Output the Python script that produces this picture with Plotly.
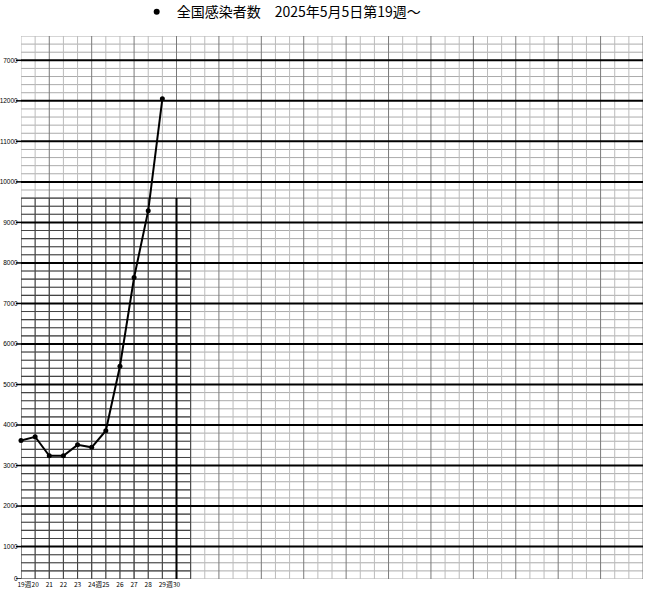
import plotly.graph_objects as go

# ---- data ----
weeks = [19, 20, 21, 22, 23, 24, 25, 26, 27, 28, 29]
cases = [3620, 3710, 3240, 3240, 3510, 3450, 3860, 5450, 7640, 9290, 12050]
series_name = "全国感染者数　2025年5月5日第19週～"

x_tick_vals = [19, 19.5, 20, 21, 22, 23, 24, 24.5, 25, 26, 27, 28, 29, 29.5, 30]
x_tick_text = ["19", "週", "20", "21", "22", "23", "24", "週", "25", "26", "27", "28", "29", "週", "30"]
y_tick_vals = [200, 1000, 2000, 3000, 4000, 5000, 6000, 7000, 8000, 9000, 10000, 11000, 12000, 13000]
y_tick_text = ["0", "1000", "2000", "3000", "4000", "5000", "6000", "7000", "8000", "9000",
               "10000", "11000", "12000", "7000"]

X_MIN, X_MAX = 19, 63
Y_MIN, Y_MAX = 200, 13600
BOX_X, BOX_Y = 31, 9600   # darker printed block in the lower left
PLOT_W = 650 - 21 - 7

shapes = []

def hline(v, x0, x1, color, width):
    shapes.append(dict(type="line", xref="x", yref="y", x0=x0, x1=x1, y0=v, y1=v,
                       line=dict(color=color, width=width), layer="below"))

def vline(w, y0, y1, color, width):
    shapes.append(dict(type="line", xref="x", yref="y", x0=w, x1=w, y0=y0, y1=y1,
                       line=dict(color=color, width=width), layer="below"))

# minor horizontal grid
for v in range(Y_MIN, Y_MAX + 1, 200):
    if v % 1000 != 0:
        hline(v, X_MIN, X_MAX, "#ababab", 1)
# vertical grid
for w in range(X_MIN, X_MAX + 1):
    vline(w, Y_MIN, Y_MAX, "#7a7a7a" if w % 3 == 0 else "#bcbcbc", 1)
# darker block
for v in range(Y_MIN, BOX_Y + 1, 200):
    if v % 1000 != 0:
        hline(v, X_MIN, BOX_X, "#444444", 1.1)
for w in range(X_MIN, BOX_X + 1):
    vline(w, Y_MIN, BOX_Y, "#444444", 1.1)
vline(30, Y_MIN, BOX_Y, "#000000", 2)
# major horizontal lines
for v in range(1000, 13001, 1000):
    hline(v, X_MIN, X_MAX, "#000000", 2)
# small tick marks left of the axis at labelled values
for v in y_tick_vals:
    shapes.append(dict(type="line", xref="paper", yref="y", x0=-5 / PLOT_W, x1=0, y0=v, y1=v,
                       line=dict(color="black", width=1.5), layer="below"))

fig = go.Figure()
fig.add_trace(go.Scatter(
    x=weeks, y=cases, mode="lines+markers",
    line=dict(color="black", width=2),
    marker=dict(color="black", size=5),
    showlegend=False, cliponaxis=False,
))
fig.add_trace(go.Scatter(
    x=[None], y=[None], mode="markers", name=series_name,
    marker=dict(color="black", size=6), showlegend=True,
))

fig.update_layout(
    width=650, height=590,
    margin=dict(l=21, r=7, t=36, b=11, autoexpand=False),
    paper_bgcolor="white", plot_bgcolor="white",
    shapes=shapes,
    showlegend=True,
    legend=dict(x=0.186, y=1.044, xanchor="left", yanchor="middle",
                bgcolor="rgba(0,0,0,0)",
                font=dict(family="Noto Sans CJK JP", size=14, color="black")),
    xaxis=dict(range=[X_MIN, X_MAX], showgrid=False, zeroline=False, showline=False,
               automargin=False,
               tickmode="array", tickvals=x_tick_vals, ticktext=x_tick_text,
               ticks="", tickangle=0,
               tickfont=dict(family="Noto Sans CJK JP", size=6.5, color="black")),
    yaxis=dict(range=[Y_MIN, Y_MAX], showgrid=False, zeroline=False, showline=False,
               automargin=False,
               tickmode="array", tickvals=y_tick_vals, ticktext=y_tick_text,
               ticks="outside", ticklen=1, tickcolor="rgba(0,0,0,0)",
               tickfont=dict(family="Liberation Sans, Arial", size=6.5, color="black")),
)

fig.write_html("out.html",
               config={"displayModeBar": False},
               post_script="document.body.style.margin='0';document.body.style.overflow='hidden';")
